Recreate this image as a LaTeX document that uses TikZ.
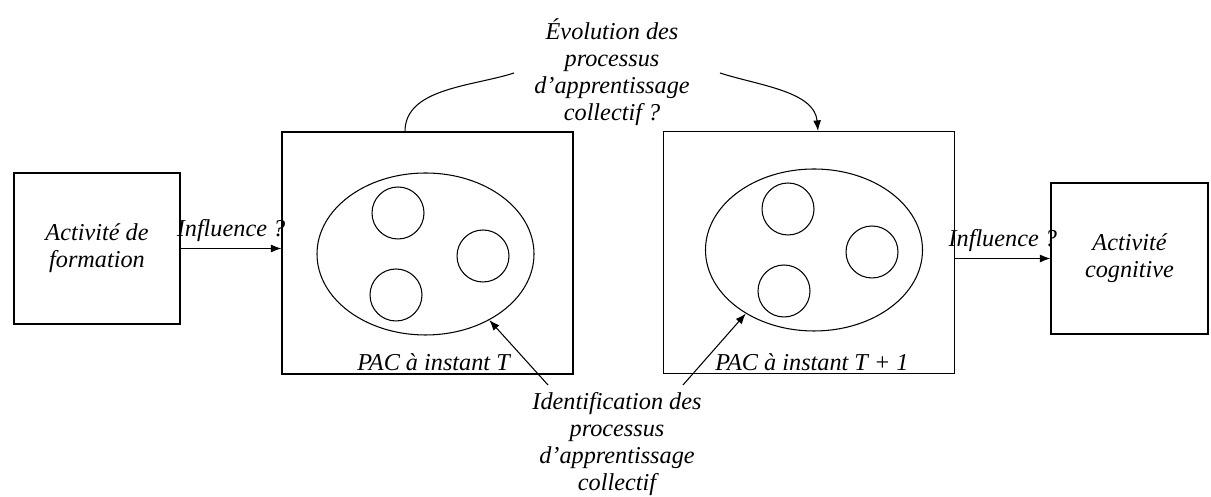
\documentclass[tikz,border=0pt]{standalone}
\usepackage{fontspec}
\setmainfont{Liberation Serif}
\usetikzlibrary{arrows.meta,shapes.geometric}

\tikzset{
	petitebox/.style={draw, minimum width=3.32cm, minimum height=3.02cm, align=center},
	grandebox/.style={draw, minimum width=5.82cm, minimum height=4.84cm},
	groupe/.style={draw, ellipse, inner sep=0pt, minimum width=4.34cm, minimum height=3.24cm},
	membre/.style={draw, circle, inner sep=0pt, minimum size=1.04cm},
	texte/.style={align=center}
}

\begin{document}
\begin{tikzpicture}[auto, line width=0.6pt, >={Latex[length=6pt,width=4.5pt]},
		font=\fontsize{13.8}{15.4}\selectfont\itshape]
				\useasboundingbox (0,0) rectangle (24.22,9.94);
				\node[petitebox] (form) at (1.94,4.97) {Activité de\\formation};
				\node[grandebox] (pac1) at (8.55,4.88) {};
				\node[grandebox] (pac2) at (16.18,4.89) {};
				\node[petitebox, minimum width=3.14cm] (cogn) at (22.59,4.77) {Activité\\cognitive};
				% les groupes
				\node[groupe] (ell1) at (8.51,4.86) {};
				\node[membre] (m1a) at (7.96,5.68) {};
				\node[membre] (m1b) at (9.66,4.82) {};
				\node[membre] (m1c) at (7.92,4.04) {};
				\node[groupe] (ell2) at (16.28,4.94) {};
				\node[membre] (m2a) at (15.76,5.76) {};
				\node[membre] (m2b) at (17.44,4.90) {};
				\node[membre] (m2c) at (15.68,4.12) {};
				\node[anchor=base] (lab1) at (8.67,2.52) {PAC à instant T};
				\node[anchor=base] (lab2) at (16.24,2.52) {PAC à instant T + 1};
				% textes
				\node[texte] (evol) at (12.24,8.49) {Évolution des\\processus\\d’apprentissage\\collectif ?};
				\node[texte] (ident) at (12.34,1.06) {Identification des\\processus\\d’apprentissage\\collectif};
				\coordinate (e1) at (10.28,8.48);
				\coordinate (e2) at (14.40,8.48);
				\coordinate (d1) at (10.96,2.24);
				\coordinate (d2) at (13.66,2.24);
				% fleches
				\draw[->] (form.east) to node{Influence ?} (form.east -| pac1.west);
				\draw[->] (pac2.east |- cogn.west) to node{Influence ?} (cogn.west);
				\draw ([xshift=-0.45cm]pac1.north) to[out=90,in=198,looseness=0.9] (e1);
				\draw[->] (e2) to[out=-18,in=95,looseness=0.9] ([xshift=0.18cm]pac2.north);
				\draw[->] (d1) -- (ell1.-46);
				\draw[->] (d2) -- (ell2.-137);
			\end{tikzpicture}
\end{document}
